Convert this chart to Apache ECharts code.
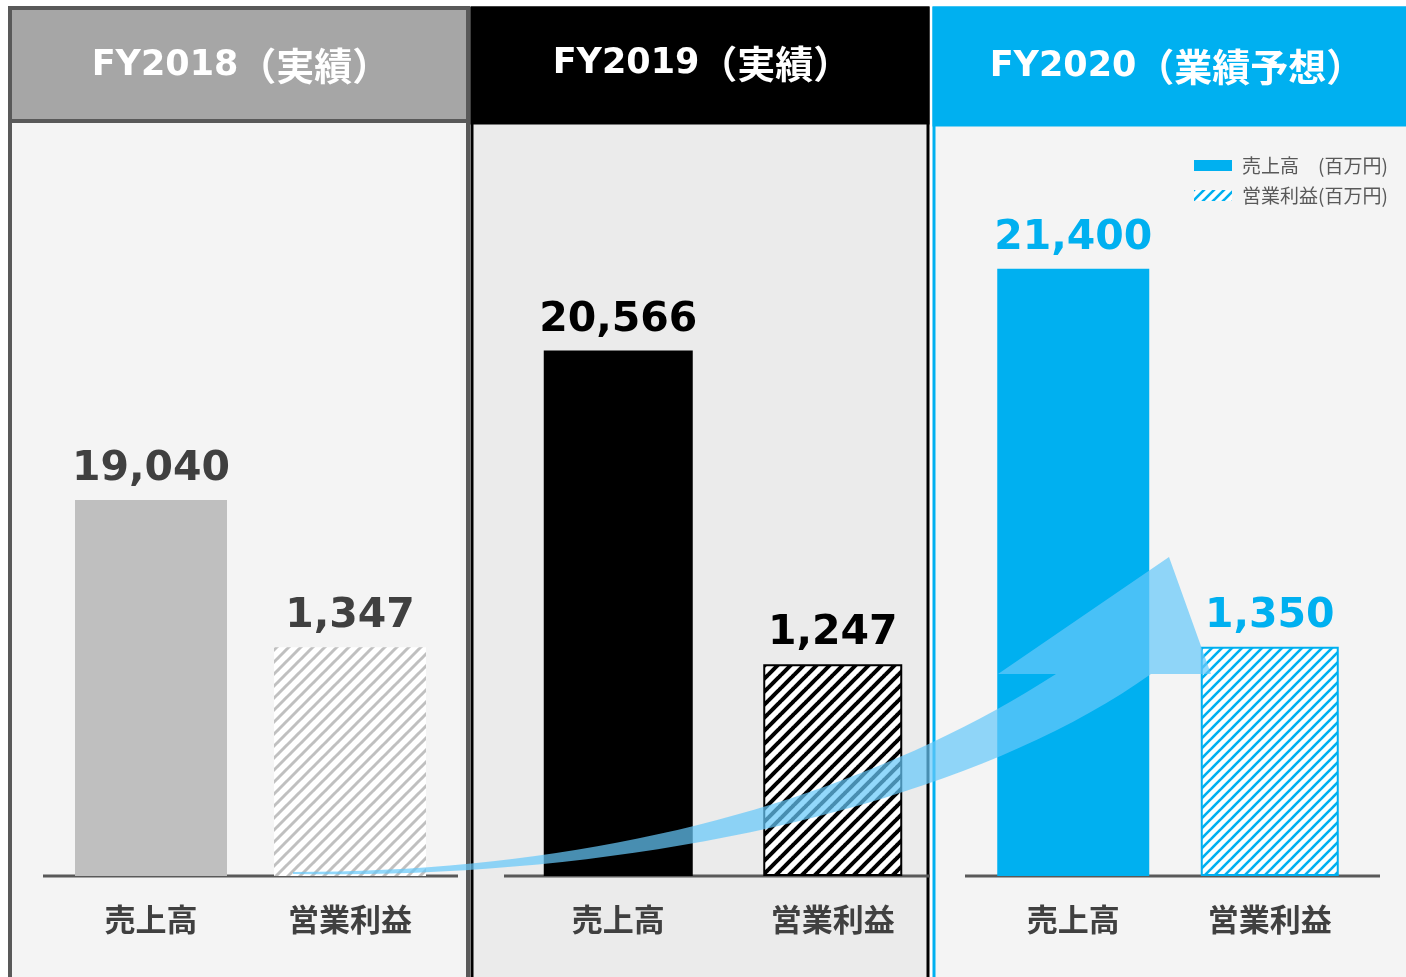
<!DOCTYPE html>
<html>
<head>
<meta charset="utf-8">
<script src="https://cdn.jsdelivr.net/npm/echarts@6/dist/echarts.min.js"></script>
<style>
  html, body { margin: 0; padding: 0; background: #fff; }
  #myChart { width: 1406px; height: 977px; }
</style>
</head>
<body>
<div id="myChart"></div>
<script>
// data
var categories = ['売上高', '営業利益'];
var yearCodes = ['FY2018', 'FY2019', 'FY2020'];
var yearNotes = ['（実績）', '（実績）', '（業績予想）'];
var sales = [19040, 20566, 21400];
var profit = [1347, 1247, 1350];
var legendNames = ['売上高　(百万円)', '営業利益(百万円)'];

var numFont = '"DejaVu Sans"';
var jpFont = '"Noto Sans CJK JP"';

// diagonal hatch tile
function hatch(color, p, w) {
    var c = document.createElement('canvas');
    c.width = p; c.height = p;
    var ctx = c.getContext('2d');
    ctx.fillStyle = '#fff';
    ctx.fillRect(0, 0, p, p);
    ctx.strokeStyle = color;
    ctx.lineWidth = w;
    for (var k = -1; k <= 1; k++) {
        ctx.beginPath();
        ctx.moveTo(k * p - 1, p + 1);
        ctx.lineTo(k * p + p + 1, -1);
        ctx.stroke();
    }
    return { image: c, repeat: 'repeat' };
}

// sample a cubic bezier into points (for the decorative arrow)
function cubic(p0, p1, p2, p3, n) {
    var pts = [];
    for (var i = 0; i <= n; i++) {
        var t = i / n, u = 1 - t;
        pts.push([
            u * u * u * p0[0] + 3 * u * u * t * p1[0] + 3 * u * t * t * p2[0] + t * t * t * p3[0],
            u * u * u * p0[1] + 3 * u * u * t * p1[1] + 3 * u * t * t * p2[1] + t * t * t * p3[1]
        ]);
    }
    return pts;
}

// panel looks
var panels = [
    { x: 10, w: 458, head: '#a6a6a6', body: '#f4f4f4', border: '#595959', bw: 4, headH: 113, textX: 241, textY: 66,
      salesColor: '#bfbfbf', profitColor: hatch('#c0c0c0', 12, 3), profitBorder: 0, profitBorderColor: '#fff',
      labelColor: '#404040', salesWidth: 152, profitWidth: 152, gridLeft: 51.5, gridW: 398, lineX: [43, 458] },
    { x: 472, w: 456, head: '#000000', body: '#ebebeb', border: '#000000', bw: 3, headH: 115, textX: 702, textY: 64,
      salesColor: '#000000', profitColor: hatch('#000', 13, 4), profitBorder: 2, profitBorderColor: '#000',
      labelColor: '#000000', salesWidth: 149, profitWidth: 139, gridLeft: 511, gridW: 429, lineX: [504, 930] },
    { x: 934, w: 480, head: '#00b0f0', body: '#f4f4f4', border: '#00b0f0', bw: 3, headH: 117, textX: 1177, textY: 67,
      salesColor: '#00b0f0', profitColor: hatch('#00b0f0', 10, 2.6), profitBorder: 2, profitBorderColor: '#00b0f0',
      labelColor: '#00b0f0', salesWidth: 152, profitWidth: 138, gridLeft: 975, gridW: 393, lineX: [965, 1380] }
];

var grid = [], xAxis = [], yAxis = [], series = [], graphic = [];

panels.forEach(function (p, i) {
    graphic.push({
        type: 'rect', z: -10,
        shape: { x: p.x, y: 8, width: p.w, height: 1000 },
        style: { fill: p.body, stroke: p.border, lineWidth: p.bw }
    });
    graphic.push({
        type: 'rect', z: -9,
        shape: { x: p.x, y: 8, width: p.w, height: p.headH },
        style: { fill: p.head, stroke: p.border, lineWidth: p.bw }
    });
    graphic.push({
        type: 'text', z: -8, x: p.textX, y: p.textY,
        style: {
            text: '{a|' + yearCodes[i] + '}{b|' + yearNotes[i] + '}',
            align: 'center', verticalAlign: 'middle',
            rich: {
                a: { fill: '#fff', fontSize: 35, fontWeight: 'bold', fontFamily: numFont },
                b: { fill: '#fff', fontSize: 38, fontWeight: 'bold', fontFamily: jpFont }
            }
        }
    });
    // baseline, drawn wider than the grid like the original slide
    graphic.push({
        type: 'line', z: -7,
        shape: { x1: p.lineX[0], y1: 876, x2: p.lineX[1], y2: 876 },
        style: { stroke: '#595959', lineWidth: 3 }
    });

    grid.push({ left: p.gridLeft, width: p.gridW, top: 112, bottom: 101 });
    // one shown category axis for sales, one hidden twin for profit so each bar centres on its own slot
    xAxis.push({
        type: 'category', gridIndex: i, data: categories,
        axisLine: { show: false },
        axisTick: { show: false },
        axisLabel: { fontSize: 31, fontWeight: 'bold', color: '#404040', fontFamily: jpFont, margin: 28 }
    });
    xAxis.push({ type: 'category', gridIndex: i, data: categories, show: false, position: 'bottom' });
    yAxis.push({ type: 'value', gridIndex: i, min: 15200, max: 23000, show: false, splitLine: { show: false } });
    yAxis.push({ type: 'value', gridIndex: i, min: 0, max: 4500, show: false, splitLine: { show: false } });

    var label = {
        show: true, position: 'top', distance: 10, color: p.labelColor,
        fontSize: 41, fontWeight: 'bold', fontFamily: numFont,
        formatter: function (d) { return d.value.toLocaleString('en-US'); }
    };
    series.push({
        name: i === 2 ? legendNames[0] : yearCodes[i] + categories[0],
        type: 'bar', xAxisIndex: 2 * i, yAxisIndex: 2 * i,
        data: [sales[i], '-'], barWidth: p.salesWidth,
        itemStyle: { color: p.salesColor },
        label: label
    });
    series.push({
        name: i === 2 ? legendNames[1] : yearCodes[i] + categories[1],
        type: 'bar', xAxisIndex: 2 * i + 1, yAxisIndex: 2 * i + 1,
        data: ['-', profit[i]], barWidth: p.profitWidth,
        itemStyle: { color: p.profitColor, borderColor: p.profitBorderColor, borderWidth: p.profitBorder },
        label: label
    });
});

// curved arrow from FY2018 profit towards FY2020 profit
var upper = cubic([293, 872], [600, 872], [860, 800], [1056, 674], 40);
var lower = cubic([1151, 674], [960, 810], [620, 880], [293, 874], 40);
var arrowPts = upper.concat([[998, 674], [1169, 557], [1211, 674]], lower);
graphic.push({
    type: 'polygon', z: 50,
    shape: { points: arrowPts },
    style: { fill: 'rgba(101,200,250,0.71)' }
});

var myChart = echarts.init(document.getElementById('myChart'));
myChart.setOption({
    backgroundColor: '#ffffff',
    animation: false,
    legend: {
        data: legendNames, orient: 'vertical', left: 1189, top: 151,
        itemWidth: 38, itemHeight: 11, itemGap: 11, icon: 'rect',
        itemStyle: { borderWidth: 0 },
        textStyle: { fontSize: 19, color: '#595959', fontFamily: jpFont, padding: [0, 0, 0, 5] }
    },
    grid: grid,
    xAxis: xAxis,
    yAxis: yAxis,
    series: series,
    graphic: graphic
});
</script>
</body>
</html>
